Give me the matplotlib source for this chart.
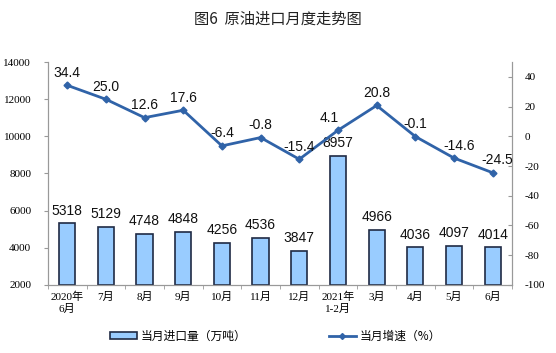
import matplotlib
matplotlib.use("Agg")
import matplotlib.pyplot as plt
from matplotlib.lines import Line2D
from matplotlib.patches import Patch

categories = ["2020年\n6月", "7月", "8月", "9月", "10月", "11月", "12月", "2021年\n1-2月", "3月", "4月", "5月", "6月"]
imports = [5318, 5129, 4748, 4848, 4256, 4536, 3847, 8957, 4966, 4036, 4097, 4014]
growth = [34.4, 25.0, 12.6, 17.6, -6.4, -0.8, -15.4, 4.1, 20.8, -0.1, -14.6, -24.5]
left_ticks = [2000, 4000, 6000, 8000, 10000, 12000, 14000]
right_ticks = [-100, -80, -60, -40, -20, 0, 20, 40]

cjk = ["Noto Sans CJK SC", "DejaVu Sans"]
serif = ["Liberation Serif", "Noto Sans CJK SC"]
sans = ["Liberation Sans", "DejaVu Sans"]

fig = plt.figure(figsize=(5.56, 3.53), dpi=100)
ax = fig.add_axes([0.086, 0.193, 0.835, 0.631])
ax2 = ax.twinx()

x = list(range(len(categories)))
bar_color = "#99CCFF"
edge_color = "#1F2A44"
line_color = "#3063A8"

ax.bar(x, [v - 2000 for v in imports], bottom=2000, width=0.42, color=bar_color,
       edgecolor=edge_color, linewidth=1.2, zorder=2)
ax.set_ylim(2000, 14000)
ax.set_xlim(-0.5, len(categories) - 0.5)
ax.set_yticks(left_ticks)
ax.set_yticklabels([str(t) for t in left_ticks], fontfamily=serif, fontsize=8)
ax.set_xticks(x)
ax.set_xticklabels(categories, fontfamily=serif, fontsize=8, linespacing=1.25)
ax.set_xticks([i - 0.5 for i in range(len(categories) + 1)], minor=True)
ax.tick_params(axis="x", which="major", length=0, pad=5)
ax.tick_params(axis="x", which="minor", length=3, color="#999999")
ax.tick_params(axis="y", direction="out", length=3, color="#999999", pad=9)

for i, v in enumerate(imports):
    ax.annotate(str(v), (i, v), xytext=(0, 4), textcoords="offset points",
                ha="center", va="bottom", fontsize=10, fontfamily=sans,
                color="#111111", zorder=5)

ax2.plot(x, growth, color=line_color, linewidth=2, marker="D", markersize=3.5,
         markerfacecolor=line_color, zorder=4)
ax2.set_ylim(-100, 50)
ax2.set_yticks(right_ticks)
ax2.set_yticklabels([str(t) for t in right_ticks], fontfamily=serif, fontsize=8)
ax2.tick_params(axis="y", direction="in", length=3, color="#999999", pad=9)

label_dx = {7: -6, 10: 4, 11: 3}
for i, g in enumerate(growth):
    dx = label_dx.get(i, 0)
    ax2.annotate(f"{g:.1f}", (i, g), xytext=(dx, 4), textcoords="offset points",
                 ha="center", va="bottom", fontsize=10, fontfamily=sans,
                 color="#111111", zorder=5)

for a in (ax, ax2):
    a.spines["top"].set_visible(False)
    for s in ("left", "right", "bottom"):
        a.spines[s].set_color("#999999")
        a.spines[s].set_linewidth(0.8)

fig.text(0.5, 0.945, "图6  原油进口月度走势图", ha="center", va="center",
         fontsize=11, fontfamily=cjk, color="#222222")

handles = [Patch(facecolor=bar_color, edgecolor=edge_color, linewidth=1.2),
           Line2D([0], [0], color=line_color, linewidth=2, marker="D", markersize=3)]
fig.legend(handles, ["当月进口量（万吨）", "当月增速（%）"], loc="center",
           bbox_to_anchor=(0.495, 0.048), ncol=2, frameon=False, prop={"family": cjk, "size": 8.5},
           columnspacing=7, handlelength=2.3, handleheight=0.5, handletextpad=0.3)

fig.savefig("out.png", dpi=100, facecolor="white")
